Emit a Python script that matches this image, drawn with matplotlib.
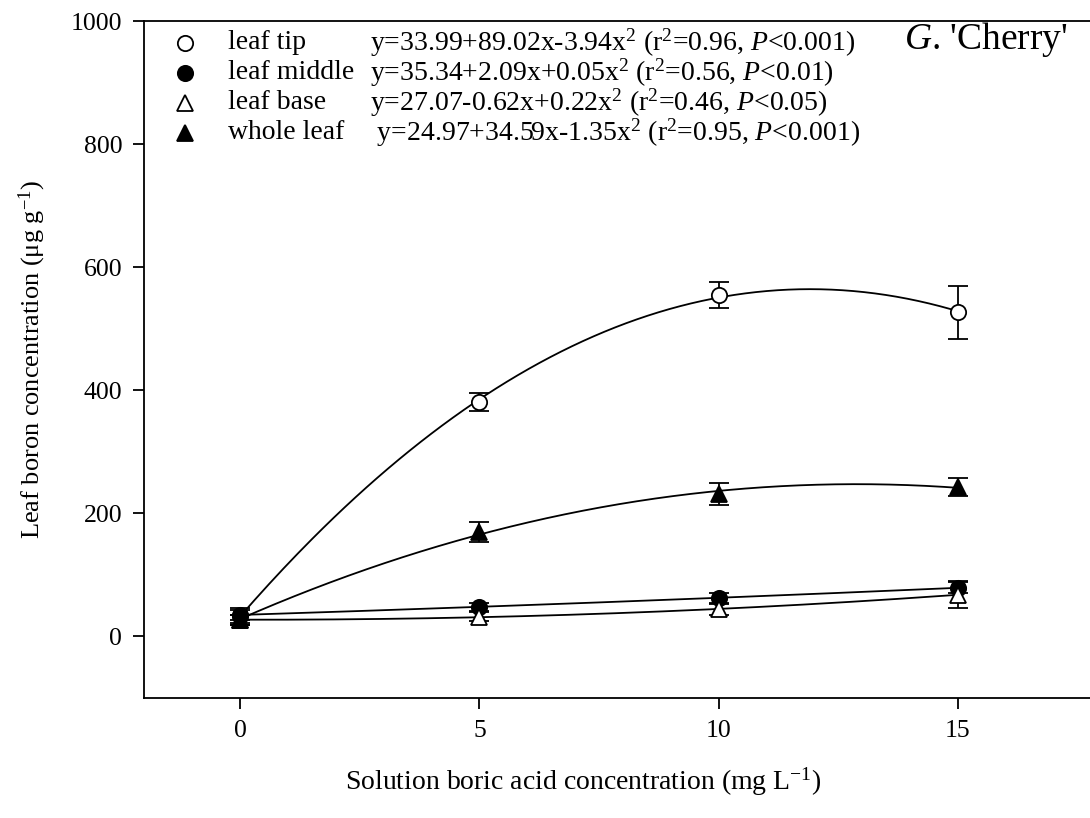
import numpy as np
import matplotlib
matplotlib.use('Agg')
import matplotlib.pyplot as plt

plt.rcParams['font.family'] = 'Liberation Serif'
plt.rcParams['mathtext.fontset'] = 'custom'
plt.rcParams['mathtext.rm'] = 'Liberation Serif'
plt.rcParams['mathtext.it'] = 'Liberation Serif:italic'

# solution boric acid (mg/L)
conc = [0, 5, 10, 15]

# leaf boron means and error bars (ug/g)
tip = [34, 381, 555, 527]
tip_err = [12, 15, 21, 43]
middle = [35, 48, 63, 79]
middle_err = [8, 6, 8, 9]
base = [27, 32, 44, 68]
base_err = [8, 7, 9, 22]
whole = [27, 170, 232, 243]
whole_err = [8, 16, 18, 15]

names = ['leaf tip', 'leaf middle', 'leaf base', 'whole leaf']
equations = [
    'y=33.99+89.02x-3.94x$^2$ (r$^2$=0.96, $P$<0.001)',
    'y=35.34+2.09x+0.05x$^2$ (r$^2$=0.56, $P$<0.01)',
    'y=27.07-0.62x+0.22x$^2$ (r$^2$=0.46, $P$<0.05)',
    ' y=24.97+34.59x-1.35x$^2$ (r$^2$=0.95, $P$<0.001)',
]

fig = plt.figure(figsize=(10.9, 8.18), dpi=100)
ax = fig.add_axes([0.1325, 0.1467, 0.878, 0.8276])

series = [(tip, tip_err, 'o', 'white'),
          (middle, middle_err, 'o', 'black'),
          (base, base_err, '^', 'white'),
          (whole, whole_err, '^', 'black')]

xs = np.linspace(0, 15, 200)
for i, (vals, err, mk, fc) in enumerate(series):
    # quadratic regression curve
    coef = np.polyfit(conc, vals, 2)
    ax.plot(xs, np.polyval(coef, xs), color='black', lw=1.3, zorder=2)
    ax.errorbar(conc, vals, yerr=err, fmt=mk, ms=11, mfc=fc, mec='black',
                mew=1.3, ecolor='black', elinewidth=1.3, capsize=7,
                capthick=1.3, zorder=3)
    # hand-made legend row
    ry = 0.968 - i * 0.0443
    ax.plot([0.0425], [ry], transform=ax.transAxes, marker=mk, ms=11, mfc=fc,
            mec='black', mew=1.3, ls='none', clip_on=False)
    ax.text(0.0876, ry, names[i], transform=ax.transAxes, fontsize=20,
            va='center', ha='left')
    ax.text(0.236, ry, equations[i], transform=ax.transAxes, fontsize=20,
            va='center', ha='left')

ax.set_xlim(-2, 18)
ax.set_ylim(-100, 1000)
ax.set_xticks([0, 5, 10, 15])
ax.set_yticks([0, 200, 400, 600, 800, 1000])
ax.tick_params(direction='out', length=8, width=1.3, labelsize=18.5, pad=8)
ax.spines['right'].set_visible(False)
for s in ['left', 'bottom', 'top']:
    ax.spines[s].set_linewidth(1.3)

ax.set_xlabel('Solution boric acid concentration (mg L$^{-1}$)', fontsize=20)
ax.xaxis.set_label_coords(0.458, -0.10)
ax.set_ylabel('Leaf boron concentration (\u03bcg g$^{-1}$)', fontsize=19, labelpad=16)

ax.text(0.879, 0.972, "$G$. 'Cherry'", transform=ax.transAxes, fontsize=27,
        ha='center', va='center')

fig.savefig('out.png', dpi=100)
